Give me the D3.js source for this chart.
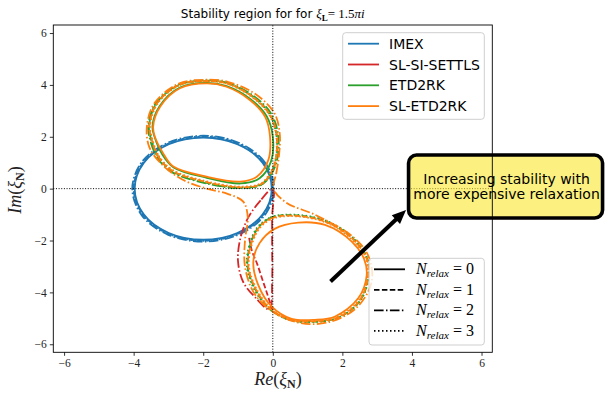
<!DOCTYPE html>
<html>
<head>
<meta charset="UTF-8">
<title></title>
<script src="https://cdn.jsdelivr.net/npm/d3@7/dist/d3.min.js"></script>
<style>
    body{margin:0;background:#fff;}
</style>
</head>
<body>
<script>
    var methods=["IMEX","SL-SI-SETTLS","ETD2RK","SL-ETD2RK"];
    var colors=["#1f77b4","#d62728","#2ca02c","#ff7f0e"];
    var relax=[0,1,2,3];
    var dashes=[null,"5.5,2.4","9.6,2.4,1.5,2.4","1.5,2.5"];
    var ticks=[-6,-4,-2,0,2,4,6];

    // IMEX, one loop per N_relax
    var imex0=[[-0.03,0],[-0.29,0.99],[-1.02,1.71],[-2,1.97],[-2.99,1.71],[-3.71,0.99],[-3.97,0],[-3.71,-0.99],[-2.99,-1.71],[-2,-1.97],[-1.02,-1.71],[-0.29,-0.99]];
    var imex1=[[0,0],[-0.27,1],[-1,1.73],[-2,2],[-3,1.73],[-3.73,1],[-4,0],[-3.73,-1],[-3,-1.73],[-2,-2],[-1,-1.73],[-0.27,-1]];
    var imex2=[[0.04,0],[-0.23,1.02],[-0.98,1.77],[-2,2.04],[-3.02,1.77],[-3.77,1.02],[-4.04,0],[-3.77,-1.02],[-3.02,-1.77],[-2,-2.04],[-0.98,-1.77],[-0.23,-1.02]];
    var imex3=[[0.01,0],[-0.26,1.0],[-1,1.74],[-2,2.01],[-3,1.74],[-3.74,1.0],[-4.01,0],[-3.74,-1.0],[-3,-1.74],[-2,-2.01],[-1,-1.74],[-0.26,-1.0]];

    // SL-SI-SETTLS
    var settls1=[[-0.68,-1.9],[-0.6,-2.4],[-0.45,-2.9],[-0.3,-3.5],[-0.15,-4.1],[-0.02,-4.65]];
    var settls2=[[0,0],[-0.35,-0.45],[-0.7,-1.1],[-0.93,-1.9],[-1.0,-2.8],[-0.85,-3.6],[-0.5,-4.2],[-0.1,-4.65],[-0.02,-3.5],[-0.02,-2.3],[-0.02,-1.1]];

    // ETD2RK
    var etdUp0=[[-3.4,2.0],[-3.18,1.33],[-2.85,0.82],[-1.9,0.42],[-0.92,0.2],[-0.38,0.4],[-0.05,1.05],[0.0,2.0],[-0.18,2.8],[-0.64,3.45],[-1.33,3.95],[-1.9,4.08],[-2.67,3.9],[-3.26,3.17],[-3.46,2.4]];
    var etdUp1=[[-3.52,2.0],[-3.3,1.25],[-2.9,0.68],[-1.9,0.22],[-0.9,0.03],[-0.3,0.18],[0.05,0.9],[0.12,2.0],[-0.08,2.87],[-0.58,3.56],[-1.3,4.07],[-1.9,4.16],[-2.7,4.0],[-3.36,3.26],[-3.56,2.4]];
    var etdLow1=[[-0.47,-1.6],[-0.06,-1.13],[0.55,-1.02],[1.5,-1.25],[2.28,-1.9],[2.71,-2.7],[2.75,-3.4],[2.51,-4.31],[1.9,-4.96],[1.2,-5.13],[0.5,-5.06],[-0.11,-4.61],[-0.57,-3.7],[-0.73,-2.8]];
    var etdUp2=[[-3.55,2.0],[-3.33,1.22],[-2.92,0.65],[-1.9,0.2],[-0.9,0.02],[-0.28,0.2],[0.08,0.9],[0.16,2.0],[-0.05,2.9],[-0.56,3.58],[-1.3,4.09],[-1.9,4.18],[-2.7,4.02],[-3.38,3.27],[-3.58,2.4]];
    var etdUp3=[[-3.5,2.0],[-3.29,1.26],[-2.89,0.7],[-1.9,0.24],[-0.91,0.05],[-0.31,0.2],[0.04,0.91],[0.11,2.0],[-0.09,2.86],[-0.59,3.55],[-1.3,4.06],[-1.9,4.15],[-2.7,3.99],[-3.35,3.25],[-3.55,2.4]];
    var etdLow3=[[-0.5,-1.6],[-0.08,-1.12],[0.55,-1.0],[1.5,-1.22],[2.3,-1.88],[2.72,-2.7],[2.76,-3.4],[2.52,-4.32],[1.9,-4.98],[1.2,-5.14],[0.5,-5.07],[-0.12,-4.62],[-0.6,-3.7],[-0.75,-2.8]];

    // SL-ETD2RK
    var sletdUp0=[[-3.39,2.0],[-3.15,1.36],[-2.86,0.85],[-1.9,0.46],[-0.94,0.27],[-0.46,0.46],[-0.13,1.1],[-0.08,2.0],[-0.22,2.77],[-0.66,3.42],[-1.33,3.93],[-1.9,4.06],[-2.67,3.87],[-3.24,3.16],[-3.44,2.39]];
    var sletdLow0=[[0.73,-1.31],[1.5,-1.4],[2.27,-2.04],[2.62,-2.7],[2.7,-3.33],[2.46,-4.22],[1.79,-4.93],[1.21,-5.06],[0.54,-5.02],[-0.03,-4.55],[-0.42,-3.71],[-0.56,-2.81],[-0.38,-2.1],[0.05,-1.55]];
    var sletdUp1=[[-3.5,2.0],[-3.3,1.25],[-2.9,0.7],[-1.9,0.25],[-0.9,0.05],[-0.3,0.2],[0.05,0.9],[0.12,2.0],[-0.08,2.85],[-0.58,3.55],[-1.3,4.05],[-1.9,4.15],[-2.7,4.0],[-3.35,3.25],[-3.55,2.4]];
    var sletdLow1=[[-0.45,-1.6],[-0.05,-1.15],[0.55,-1.04],[1.5,-1.27],[2.27,-1.91],[2.7,-2.7],[2.74,-3.4],[2.5,-4.3],[1.9,-4.95],[1.2,-5.12],[0.5,-5.05],[-0.1,-4.6],[-0.55,-3.7],[-0.71,-2.8]];
    var sletd2=[[0.02,0.0],[0.1,0.6],[0.18,1.3],[0.2,2.1],[0.05,2.9],[-0.5,3.65],[-1.3,4.12],[-1.9,4.2],[-2.7,4.05],[-3.4,3.3],[-3.62,2.4],[-3.55,1.6],[-3.2,0.95],[-2.6,0.35],[-1.9,0.0],[-1.3,-0.2],[-0.85,-0.5],[-0.72,-1.1],[-0.8,-2.0],[-0.8,-3.0],[-0.55,-4.0],[0.0,-4.75],[0.8,-5.18],[1.6,-5.15],[2.4,-4.6],[2.84,-3.6],[2.75,-2.6],[2.3,-1.85],[1.2,-1.0],[0.4,-0.55]];
    var sletdUp3=[[-3.48,2.0],[-3.28,1.27],[-2.88,0.72],[-1.9,0.28],[-0.92,0.08],[-0.32,0.22],[0.03,0.92],[0.1,2.0],[-0.1,2.84],[-0.6,3.53],[-1.31,4.04],[-1.9,4.14],[-2.69,3.98],[-3.33,3.24],[-3.53,2.4]];
    var sletdLow3=[[-0.43,-1.62],[-0.03,-1.17],[0.55,-1.06],[1.5,-1.29],[2.25,-1.93],[2.68,-2.72],[2.72,-3.4],[2.48,-4.28],[1.88,-4.93],[1.2,-5.1],[0.5,-5.03],[-0.08,-4.58],[-0.53,-3.7],[-0.69,-2.8]];

    // method index, N_relax, points, closed
    var curves=[
        [0,0,imex0,true],[0,1,imex1,true],[0,2,imex2,true],[0,3,imex3,true],
        [1,1,settls1,false],[1,2,settls2,true],
        [2,0,etdUp0,true],[2,1,etdUp1,true],[2,1,etdLow1,true],[2,2,etdUp2,true],[2,3,etdUp3,true],[2,3,etdLow3,true],
        [3,0,sletdUp0,true],[3,0,sletdLow0,true],[3,1,sletdUp1,true],[3,1,sletdLow1,true],[3,2,sletd2,true],[3,3,sletdUp3,true],[3,3,sletdLow3,true]
    ];

    var boxText=["Increasing stability with","more expensive relaxation"];
    var arrowTail=[1.66,-3.58], arrowTip=[3.83,-0.82], boxCenter=[6.72,0.1];

    var W=605,H=393;
    var x=d3.scaleLinear().domain([-6.31,6.31]).range([53.3,492.3]);
    var y=d3.scaleLinear().domain([-6.31,6.31]).range([352.3,25]);
    var serif="'Liberation Serif','DejaVu Serif',serif";
    var sans="'DejaVu Sans',sans-serif";

    var svg=d3.select('body').append('svg').attr('width',W).attr('height',H);

    svg.append('defs').append('clipPath').attr('id','clip')
        .append('rect').attr('x',x(-6.31)).attr('y',y(6.31))
        .attr('width',x(6.31)-x(-6.31)).attr('height',y(-6.31)-y(6.31));

    var plot=svg.append('g').attr('clip-path','url(#clip)');

    var lineOpen=d3.line().x(function(d){return x(d[0]);}).y(function(d){return y(d[1]);}).curve(d3.curveCatmullRom.alpha(0.5));
    var lineClosed=d3.line().x(function(d){return x(d[0]);}).y(function(d){return y(d[1]);}).curve(d3.curveCatmullRomClosed.alpha(0.5));

    plot.selectAll('.curve').data(curves).enter().append('path')
        .attr('class','curve')
        .attr('d',function(d){return d[3]?lineClosed(d[2]):lineOpen(d[2]);})
        .attr('fill','none')
        .attr('stroke',function(d){return colors[d[0]];})
        .attr('stroke-width',1.8)
        .attr('stroke-dasharray',function(d){return dashes[d[1]];});

    // zero lines
    plot.append('line').attr('x1',x(-6.31)).attr('x2',x(6.31)).attr('y1',y(0)).attr('y2',y(0))
        .attr('stroke','#000').attr('stroke-width',1).attr('stroke-dasharray','1,1.65');
    plot.append('line').attr('x1',x(0)).attr('x2',x(0)).attr('y1',y(-6.31)).attr('y2',y(6.31))
        .attr('stroke','#000').attr('stroke-width',1).attr('stroke-dasharray','1,1.65');

    // axes
    var fmt=function(d){return d<0?'\u2212'+(-d):''+d;};
    var gx=svg.append('g').attr('transform','translate(0,'+y(-6.31)+')')
        .call(d3.axisBottom(x).tickValues(ticks).tickSize(3.5).tickPadding(3).tickFormat(fmt));
    var gy=svg.append('g').attr('transform','translate('+x(-6.31)+',0)')
        .call(d3.axisLeft(y).tickValues(ticks).tickSize(3.5).tickPadding(3).tickFormat(fmt));
    [gx,gy].forEach(function(g){
        g.select('.domain').remove();
        g.selectAll('line').attr('stroke','#000').attr('stroke-width',0.8);
        g.selectAll('text').attr('font-family',serif).attr('font-size',11.5).attr('fill','#222');
    });

    // annotation box + arrow
    var bx=x(boxCenter[0]), by=y(boxCenter[1]);
    svg.append('rect').attr('x',bx-98).attr('y',by-31).attr('width',194).attr('height',63)
        .attr('rx',8).attr('fill','rgb(250,232,50)').attr('fill-opacity',0.62)
        .attr('stroke','#000').attr('stroke-width',3.6);
    svg.selectAll('.boxtext').data(boxText).enter().append('text')
        .attr('class','boxtext')
        .attr('x',bx).attr('y',function(d,i){return by-2+i*15;})
        .attr('text-anchor','middle')
        .attr('font-family',sans).attr('font-size',14).attr('fill','#000')
        .text(function(d){return d;});

    var tx=x(arrowTail[0]), ty=y(arrowTail[1]), hx=x(arrowTip[0]), hy=y(arrowTip[1]);
    var len=Math.hypot(hx-tx,hy-ty), ux=(hx-tx)/len, uy=(hy-ty)/len;
    var bx2=hx-14*ux, by2=hy-14*uy;
    svg.append('line').attr('x1',tx).attr('y1',ty).attr('x2',bx2+2*ux).attr('y2',by2+2*uy)
        .attr('stroke','#000').attr('stroke-width',4);
    svg.append('path')
        .attr('d','M'+hx+','+hy+'L'+(bx2-6*uy)+','+(by2+6*ux)+'L'+(bx2+6*uy)+','+(by2-6*ux)+'Z')
        .attr('fill','#000');

    // spines
    svg.append('rect').attr('x',x(-6.31)).attr('y',y(6.31))
        .attr('width',x(6.31)-x(-6.31)).attr('height',y(-6.31)-y(6.31))
        .attr('fill','none').attr('stroke','#000').attr('stroke-width',0.9);

    // method legend
    var leg1=svg.append('g');
    leg1.append('rect').attr('x',342.7).attr('y',32.7).attr('width',141.6).attr('height',86.6)
        .attr('rx',3).attr('fill','#fff').attr('fill-opacity',0.8).attr('stroke','#cfcfcf');
    var li=leg1.selectAll('.li').data(methods).enter().append('g').attr('class','li')
        .attr('transform',function(d,i){return 'translate(0,'+(43.7+i*20.8)+')';});
    li.append('line').attr('x1',348).attr('x2',379).attr('stroke',function(d,i){return colors[i];}).attr('stroke-width',1.8);
    li.append('text').attr('x',389).attr('y',5).attr('font-family',sans).attr('font-size',14)
        .text(function(d){return d;});

    // N_relax legend
    var leg2=svg.append('g');
    leg2.append('rect').attr('x',369).attr('y',258.3).attr('width',115.3).attr('height',86.7)
        .attr('rx',3).attr('fill','#fff').attr('fill-opacity',0.8).attr('stroke','#cfcfcf');
    var lr=leg2.selectAll('.lr').data(relax).enter().append('g').attr('class','lr')
        .attr('transform',function(d,i){return 'translate(0,'+(269.3+i*20.5)+')';});
    lr.append('line').attr('x1',374).attr('x2',405).attr('stroke','#000').attr('stroke-width',1.8)
        .attr('stroke-dasharray',function(d){return dashes[d];});
    var lt=lr.append('text').attr('x',416).attr('y',5).attr('font-family',serif).attr('font-size',16);
    lt.append('tspan').attr('font-style','italic').text('N');
    lt.append('tspan').attr('font-style','italic').attr('font-size',11).attr('dy',3).text('relax');
    lt.append('tspan').attr('dy',-3).text(function(d){return ' = '+d;});

    // title
    var tt=svg.append('text').attr('x',272.8).attr('y',18).attr('text-anchor','middle').attr('font-size',12);
    tt.append('tspan').attr('font-family',sans).text('Stability region for for ');
    tt.append('tspan').attr('font-family',serif).attr('font-style','italic').attr('font-size',13).text('\u03be');
    tt.append('tspan').attr('font-family',serif).attr('font-weight','bold').attr('font-size',9).attr('dy',3).text('L');
    tt.append('tspan').attr('font-family',serif).attr('font-size',13).attr('dy',-3).text('= 1.5');
    tt.append('tspan').attr('font-family',serif).attr('font-style','italic').attr('font-size',13).text('\u03c0i');

    // axis labels
    function mathLabel(sel,a){
        sel.append('tspan').attr('font-style','italic').text(a);
        sel.append('tspan').text('(');
        sel.append('tspan').attr('font-style','italic').text('\u03be');
        sel.append('tspan').attr('font-weight','bold').attr('font-size',12).attr('dy',3).text('N');
        sel.append('tspan').attr('dy',-3).text(')');
    }
    var xl=svg.append('text').attr('x',278).attr('y',385).attr('text-anchor','middle')
        .attr('font-family',serif).attr('font-size',18).attr('fill','#222');
    mathLabel(xl,'Re');
    var yl=svg.append('text').attr('transform','translate(21,190) rotate(-90)').attr('text-anchor','middle')
        .attr('font-family',serif).attr('font-size',18).attr('fill','#222');
    mathLabel(yl,'Im');
</script>
</body>
</html>
